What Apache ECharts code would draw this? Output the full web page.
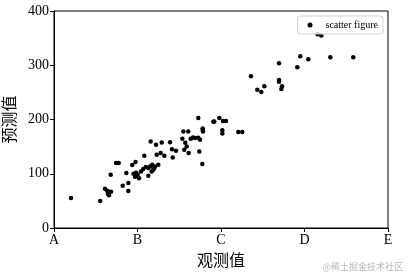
<!DOCTYPE html>
<html>
<head>
<meta charset="utf-8">
<script src="https://cdn.jsdelivr.net/npm/echarts@6/dist/echarts.min.js"></script>
<style>html,body{margin:0;padding:0;background:#fff;}#c{width:413px;height:279px;}</style>
</head>
<body>
<div id="c"></div>
<script>
const xTickLabels = ['A', 'B', 'C', 'D', 'E'];
const yTicks = [0, 100, 200, 300, 400];
const observed = [20.4,55.4,61.1,63.5,65.9,68.3,64.7,65.9,67.9,74.3,77.5,82.3,86.6,89.0,89.0,93.8,97.6,95.2,98.2,100.2,97.0,101.8,108.1,104.2,106.9,109.8,112.9,115.0,117.7,121.0,118.9,117.0,112.9,120.1,124.9,123.0,127.8,132.1,115.8,122.2,129.0,138.9,141.3,146.1,142.2,154.9,160.8,153.7,157.2,158.9,156.0,161.3,163.7,166.5,168.9,172.8,174.9,172.8,174.0,177.6,178.1,178.4,178.1,190.8,192.0,198.0,202.4,206.0,201.6,201.6,220.7,225.5,235.9,243.5,248.3,251.9,269.5,269.5,269.5,273.1,272.2,291.4,295.0,304.6,315.8,320.1,330.9,358.4];
const predicted = [55.2,49.7,72.4,68.7,66.9,66.9,63.2,60.4,98.2,119.7,119.7,77.9,101.3,82.9,68.1,116.0,121.5,100.0,101.8,98.2,94.5,91.7,133.1,104.2,108.7,112.3,110.5,113.4,116.6,113.4,107.4,104.2,96.3,110.5,116.6,135.0,138.1,133.1,159.5,153.4,157.6,158.0,145.1,142.4,130.0,177.9,177.9,164.5,157.1,150.3,144.2,138.1,164.5,166.9,165.7,166.3,162.6,202.6,141.1,117.9,183.4,177.9,181.0,195.8,196.3,202.6,197.1,197.1,180.1,174.2,176.8,176.8,279.9,254.7,250.5,261.5,303.9,272.6,269.4,261.5,256.0,296.5,316.8,311.2,357.3,354.7,314.9,314.9];
const seriesName = 'scatter figure';

const points = observed.map((v, i) => [v, predicted[i]]);
const serif = '"Liberation Serif", "Times New Roman", serif';
const cjk = '"Noto Sans CJK SC", sans-serif';

const chart = echarts.init(document.getElementById('c'));
chart.setOption({
  animation: false,
  backgroundColor: '#fff',
  grid: { left: 54, right: 25, top: 11, bottom: 51, show: true, borderColor: '#000', borderWidth: 1, backgroundColor: 'transparent', containLabel: false, outerBoundsMode: 'none' },
  legend: {
    data: [{ name: seriesName, icon: 'circle' }],
    right: 30, top: 16,
    itemWidth: 5, itemHeight: 5, itemGap: 4,
    padding: [4, 5, 4, 10],
    backgroundColor: 'rgba(255,255,255,0.8)',
    borderColor: '#d0d0d0', borderWidth: 1, borderRadius: 3,
    textStyle: { fontFamily: serif, fontSize: 10, color: '#000', padding: [0, 0, 0, 8] }
  },
  xAxis: {
    type: 'value', min: 0, max: 400, interval: 100,
    name: '观测值', nameLocation: 'middle', nameGap: 24,
    nameTextStyle: { fontFamily: cjk, fontSize: 16, color: '#000' },
    axisLine: { show: true, lineStyle: { color: '#000', width: 1 } },
    axisTick: { show: true, inside: false, length: 4, lineStyle: { color: '#000' } },
    axisLabel: { fontFamily: serif, fontSize: 14, color: '#000', margin: 5,
      formatter: v => xTickLabels[Math.round(v / 100)] },
    splitLine: { show: false }
  },
  yAxis: {
    type: 'value', min: 0, max: 400, interval: 100,
    name: '预测值', nameLocation: 'middle', nameGap: 35,
    nameTextStyle: { fontFamily: cjk, fontSize: 16, color: '#000' },
    axisLine: { show: true, lineStyle: { color: '#000', width: 1 } },
    axisTick: { show: true, inside: false, length: 4, lineStyle: { color: '#000' } },
    axisLabel: { fontFamily: serif, fontSize: 14, color: '#000', margin: 5,
      formatter: v => yTicks.includes(v) ? String(v) : '' },
    splitLine: { show: false }
  },
  series: [{
    name: seriesName, type: 'scatter', data: points,
    symbol: 'circle', symbolSize: 4.5,
    itemStyle: { color: '#000', opacity: 1 }, z: 1
  }],
  graphic: [{
    type: 'text', right: 10, bottom: 8,
    style: { text: '@稀土掘金技术社区', fill: '#b8b8b8', font: '9px "Noto Sans CJK SC", sans-serif' }
  }]
});
</script>
</body>
</html>
